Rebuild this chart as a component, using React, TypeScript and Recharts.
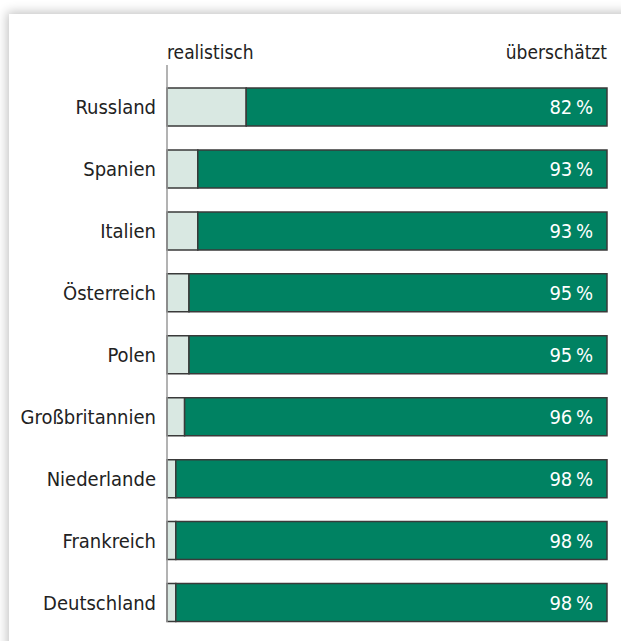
import React from 'react';
import { BarChart, Bar, XAxis, YAxis, LabelList } from 'recharts';

const countries = [
  'Russland',
  'Spanien',
  'Italien',
  'Österreich',
  'Polen',
  'Großbritannien',
  'Niederlande',
  'Frankreich',
  'Deutschland',
];
const realistisch = [18, 7, 7, 5, 5, 4, 2, 2, 2];
const ueberschaetzt = [82, 93, 93, 95, 95, 96, 98, 98, 98];
const headerTicks = [0, 100];
const headerLabels = ['realistisch', 'überschätzt'];

const FONT = '"DejaVu Sans Condensed", "Liberation Sans Narrow", sans-serif';

const data = countries.map((name, i) => ({
  name,
  realistisch: realistisch[i],
  ueberschaetzt: ueberschaetzt[i],
}));

const HeaderTick = (props: any) => {
  const { x, y, payload } = props;
  const isStart = payload.value === 0;
  return (
    <text
      x={x}
      y={y}
      textAnchor={isStart ? 'start' : 'end'}
      fontFamily={FONT}
      fontSize={19}
      fill="#222"
    >
      {headerLabels[headerTicks.indexOf(payload.value)]}
    </text>
  );
};

const PctLabel = (props: any) => {
  const { x, y, width, height, value } = props;
  return (
    <text
      x={x + width - 14}
      y={y + height / 2 + 7}
      textAnchor="end"
      fontFamily={FONT}
      fontSize={20}
      fill="#ffffff"
    >
      {`${value}\u2009%`}
    </text>
  );
};

export default function App() {
  return (
    <div style={{ position: 'fixed', left: 0, top: 0, width: 621, height: 641, overflow: 'hidden', background: '#fff' }}>
      <div
        style={{
          position: 'absolute',
          left: 9,
          top: 14,
          width: 700,
          height: 700,
          background: '#fff',
          boxShadow: '0 0 10px 2px rgba(0,0,0,0.24)',
        }}
      />
      <div style={{ position: 'absolute', left: 0, top: 0 }}>
        <BarChart
          width={621}
          height={641}
          data={data}
          layout="vertical"
          margin={{ top: 35, right: 14, bottom: 19, left: 0 }}
          barSize={38}
        >
          <XAxis
            type="number"
            orientation="top"
            domain={[0, 100]}
            ticks={headerTicks}
            height={30}
            axisLine={false}
            tickLine={false}
            tickSize={0}
            tickMargin={6}
            tick={<HeaderTick />}
          />
          <YAxis
            type="category"
            dataKey="name"
            width={167}
            axisLine={{ stroke: '#9a9a9a', strokeWidth: 1.5 }}
            tickLine={false}
            tickSize={0}
            tickMargin={11}
            padding={{ top: 11, bottom: -11.5 }}
            tick={{ fontFamily: FONT, fontSize: 20, fill: '#222' }}
          />
          <Bar dataKey="realistisch" stackId="a" fill="#d9e8e2" stroke="#3a3a3a" strokeWidth={1.5} isAnimationActive={false} />
          <Bar dataKey="ueberschaetzt" stackId="a" fill="#008262" stroke="#3a3a3a" strokeWidth={1.5} isAnimationActive={false}>
            <LabelList dataKey="ueberschaetzt" content={<PctLabel />} />
          </Bar>
        </BarChart>
      </div>
    </div>
  );
}
